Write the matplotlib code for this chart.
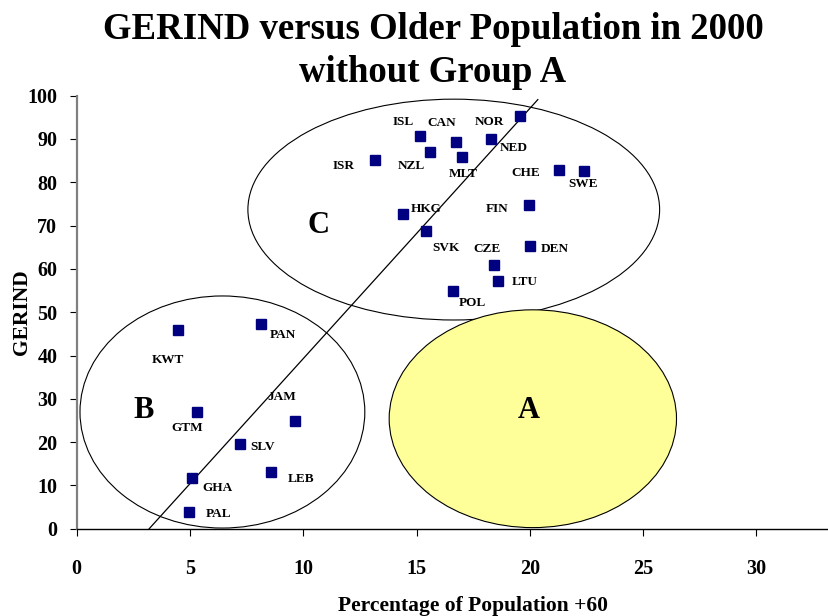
import matplotlib
matplotlib.use("Agg")
import matplotlib.pyplot as plt
from matplotlib.patches import Ellipse

plt.rcParams['font.family'] = ['Liberation Serif', 'DejaVu Serif']
plt.rcParams['font.weight'] = 'bold'

# ---- data ----
countries = ["NOR", "ISL", "CAN", "NED", "NZL", "MLT", "ISR", "CHE", "SWE", "HKG",
             "FIN", "SVK", "DEN", "CZE", "LTU", "POL",
             "KWT", "PAN", "GTM", "JAM", "SLV", "LEB", "GHA", "PAL"]
pop60 = [19.55, 15.14, 16.72, 18.30, 15.58, 17.00, 13.16, 21.27, 22.40, 14.39,
         19.95, 15.41, 20.00, 18.41, 18.58, 16.60,
         4.47, 8.13, 5.30, 9.63, 7.20, 8.56, 5.09, 4.96]
gerind = [95.2, 90.7, 89.4, 90.0, 87.1, 85.9, 85.2, 82.8, 82.7, 72.7,
          74.8, 68.8, 65.4, 61.0, 57.3, 55.0,
          46.0, 47.3, 26.9, 24.9, 19.6, 13.1, 11.7, 3.9]
# label offsets (pixels) from marker
label_dx = [-30, -17, -14, 22, -18, 1, -31, -33, -1, 23,
            -32, 20, 25, -7, 27, 20,
            -10, 22, -10, -13, 23, 30, 25, 29]
label_dy = [-6, 14, 19, -9, -14, -17, -6, -3, -13, 5,
            -4, -17, -3, 16, -1, -12,
            -30, -11, -16, 24, -3, -7, -10, -2]

trend_x = [3.2, 20.35]
trend_y = [0.0, 99.1]

groups = ["C", "B", "A"]
group_cx = [16.64, 6.43, 20.13]
group_cy = [73.7, 26.95, 25.4]
group_w = [18.17, 12.57, 12.68]
group_h = [51.0, 53.6, 50.3]
group_fill = ["none", "none", "#FFFF99"]
group_lx = [10.69, 2.97, 19.95]
group_ly = [70.1, 27.2, 27.2]

xticks = [0, 5, 10, 15, 20, 25, 30]
yticks = [0, 10, 20, 30, 40, 50, 60, 70, 80, 90, 100]

# ---- figure ----
fig = plt.figure(figsize=(8.29, 6.16), dpi=100)
ax = fig.add_axes([76.7/829, 1-528.7/616, 1-76.7/829, (528.7-95.7)/616])
ax.set_xlim(0, 33.2)
ax.set_ylim(0, 100)

for g, cx, cy, w, h, fc in zip(groups, group_cx, group_cy, group_w, group_h, group_fill):
    e = Ellipse((cx, cy), w, h, facecolor=fc, edgecolor='black', lw=0.8, zorder=1, clip_on=False)
    ax.add_patch(e)

ax.plot(trend_x, trend_y, color='black', lw=0.9, zorder=2, clip_on=False)

ax.plot(pop60, gerind, linestyle='none', marker='s', markersize=7.2,
        color='#000080', zorder=3, clip_on=False)

for name, x, y, dx, dy in zip(countries, pop60, gerind, label_dx, label_dy):
    ax.annotate(name, (x, y), xytext=(dx, dy), textcoords='offset pixels',
                ha='center', va='center', fontsize=9.5, fontweight='bold', zorder=4)

for g, lx, ly in zip(groups, group_lx, group_ly):
    ax.text(lx, ly, g, ha='center', va='center', fontsize=22, fontweight='bold', zorder=4)

for s in ['top', 'right']:
    ax.spines[s].set_visible(False)
ax.spines['left'].set_color('#808080')
ax.spines['left'].set_linewidth(1.6)
ax.spines['bottom'].set_color('black')
ax.spines['bottom'].set_linewidth(1.0)

ax.set_xticks(xticks)
ax.set_yticks(yticks)
ax.tick_params(axis='x', direction='out', length=5, width=0.8, pad=17, labelsize=14.5)
ax.tick_params(axis='y', direction='out', length=5, width=0.8, pad=9, labelsize=14.5)
for lab in ax.get_xticklabels() + ax.get_yticklabels():
    lab.set_fontweight('bold')

fig.text(433/829, 1-39/616, "GERIND versus Older Population in 2000",
         ha='center', va='baseline', fontsize=26.5, fontweight='bold')
fig.text(433/829, 1-82/616, "without Group A",
         ha='center', va='baseline', fontsize=26.5, fontweight='bold')
fig.text(473/829, 1-611/616, "Percentage of Population +60",
         ha='center', va='baseline', fontsize=15.5, fontweight='bold')
fig.text(22/829, 1-312/616, "GERIND", rotation=90,
         ha='center', va='center', fontsize=15.5, fontweight='bold')

fig.savefig("out.png", dpi=100)
